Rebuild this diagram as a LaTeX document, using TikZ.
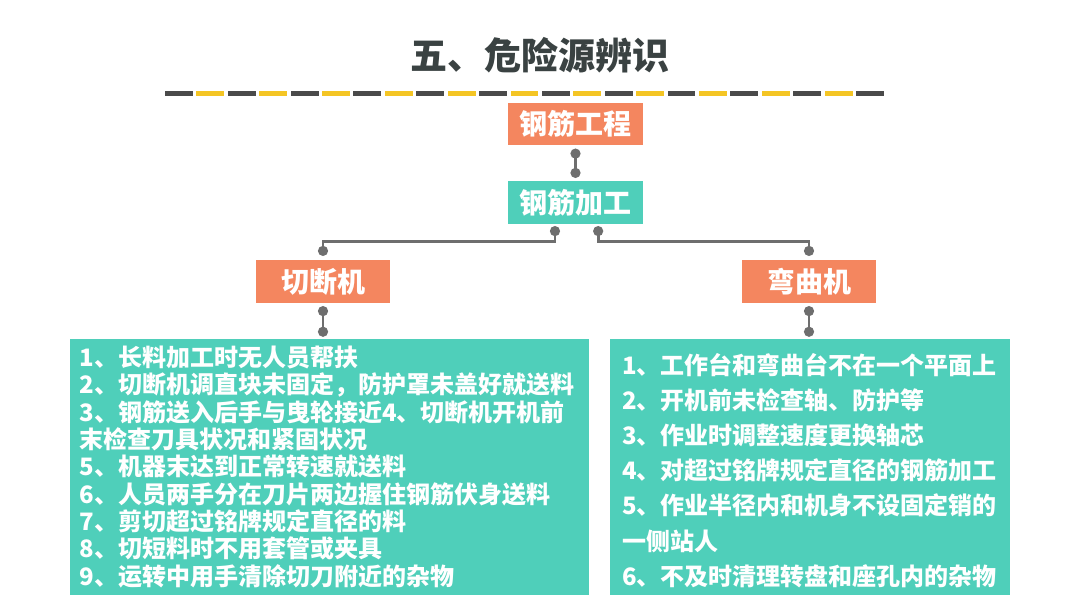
\documentclass[tikz,border=0pt]{standalone}
\usepackage{fontspec}
\setmainfont{Noto Sans CJK SC}
\usetikzlibrary{arrows.meta}

\definecolor{boxorange}{HTML}{F4865F}
\definecolor{boxteal}{HTML}{4FCFBA}
\definecolor{linkgray}{HTML}{6E6E6E}
\definecolor{titlegray}{HTML}{3A4242}
\definecolor{dashdark}{HTML}{4A4A4A}
\definecolor{dashyellow}{HTML}{F4C524}

\begin{document}
\begin{tikzpicture}[x=0.75pt,y=-0.75pt,
    head/.style={fill=#1, text=white, inner sep=0pt,
      font=\fontsize{21}{21}\selectfont\bfseries,
      minimum width=101pt, minimum height=32pt},
    list/.style={fill=boxteal, text=white, align=left, inner ysep=0pt,
      minimum height=192pt},
    link/.style={draw=linkgray, line width=2.2pt,
      {Circle[length=7.5pt]}-{Circle[length=7.5pt]}}]

  \useasboundingbox (0,0) rectangle (1080,608);

  % title and striped rule
  \node[text=titlegray, font=\fontsize{27.75}{27.75}\selectfont\bfseries]
    (title) at (540,55) {五、危险源辨识};
  \foreach \i in {0,2,...,22}
    \fill[dashdark] (165+31.41*\i,90.5) rectangle ++(27.9,5);
  \foreach \i in {1,3,...,21}
    \fill[dashyellow] (165+31.41*\i,90.5) rectangle ++(27.9,5);

  % tree boxes
  \node[head=boxorange] (work) at (575.5,124) {钢筋工程};
  \node[head=boxteal]   (proc) at (575.5,202.5) {钢筋加工};
  \node[head=boxorange] (cut)  at (323,281.5) {切断机};
  \node[head=boxorange] (bend) at (809,281.5) {弯曲机};

  \node[list, text width=375pt, inner xsep=7pt,
    font=\fontsize{18}{20.5}\selectfont\bfseries] (cutlist) at (329.5,467) {%
    1、长料加工时无人员帮扶\\
    2、切断机调直块未固定，防护罩未盖好就送料\\
    3、钢筋送入后手与曳轮接近4、切断机开机前\\
    末检查刀具状况和紧固状况\\
    5、机器末达到正常转速就送料\\
    6、人员两手分在刀片两边握住钢筋伏身送料\\
    7、剪切超过铭牌规定直径的料\\
    8、切短料时不用套管或夹具\\
    9、运转中用手清除切刀附近的杂物};

  \node[list, text width=282pt, inner xsep=9pt,
    font=\fontsize{18}{26.4}\selectfont\bfseries] (bendlist) at (810,467) {%
    \rule{0pt}{21pt}1、工作台和弯曲台不在一个平面上\\
    2、开机前未检查轴、防护等\\
    3、作业时调整速度更换轴芯\\
    4、对超过铭牌规定直径的钢筋加工\\
    5、作业半径内和机身不设固定销的\\
    一侧站人\\
    6、不及时清理转盘和座孔内的杂物};

  % connectors
  \draw[link, shorten <=2.25pt, shorten >=2.25pt] (work.south) -- (proc.north);
  \draw[link, shorten <=1.5pt, shorten >=3pt]
    ([xshift=-15.4pt]proc.south) -- ++(0,17) -| (cut.north);
  \draw[link, shorten <=1.5pt, shorten >=3pt]
    ([xshift=17pt]proc.south) -- ++(0,17) -| (bend.north);
  \draw[link, shorten <=2.25pt, shorten >=1.5pt] (cut.south) -- (cut.south |- cutlist.north);
  \draw[link, shorten <=2.25pt, shorten >=1.5pt] (bend.south) -- (bend.south |- bendlist.north);

\end{tikzpicture}
\end{document}
